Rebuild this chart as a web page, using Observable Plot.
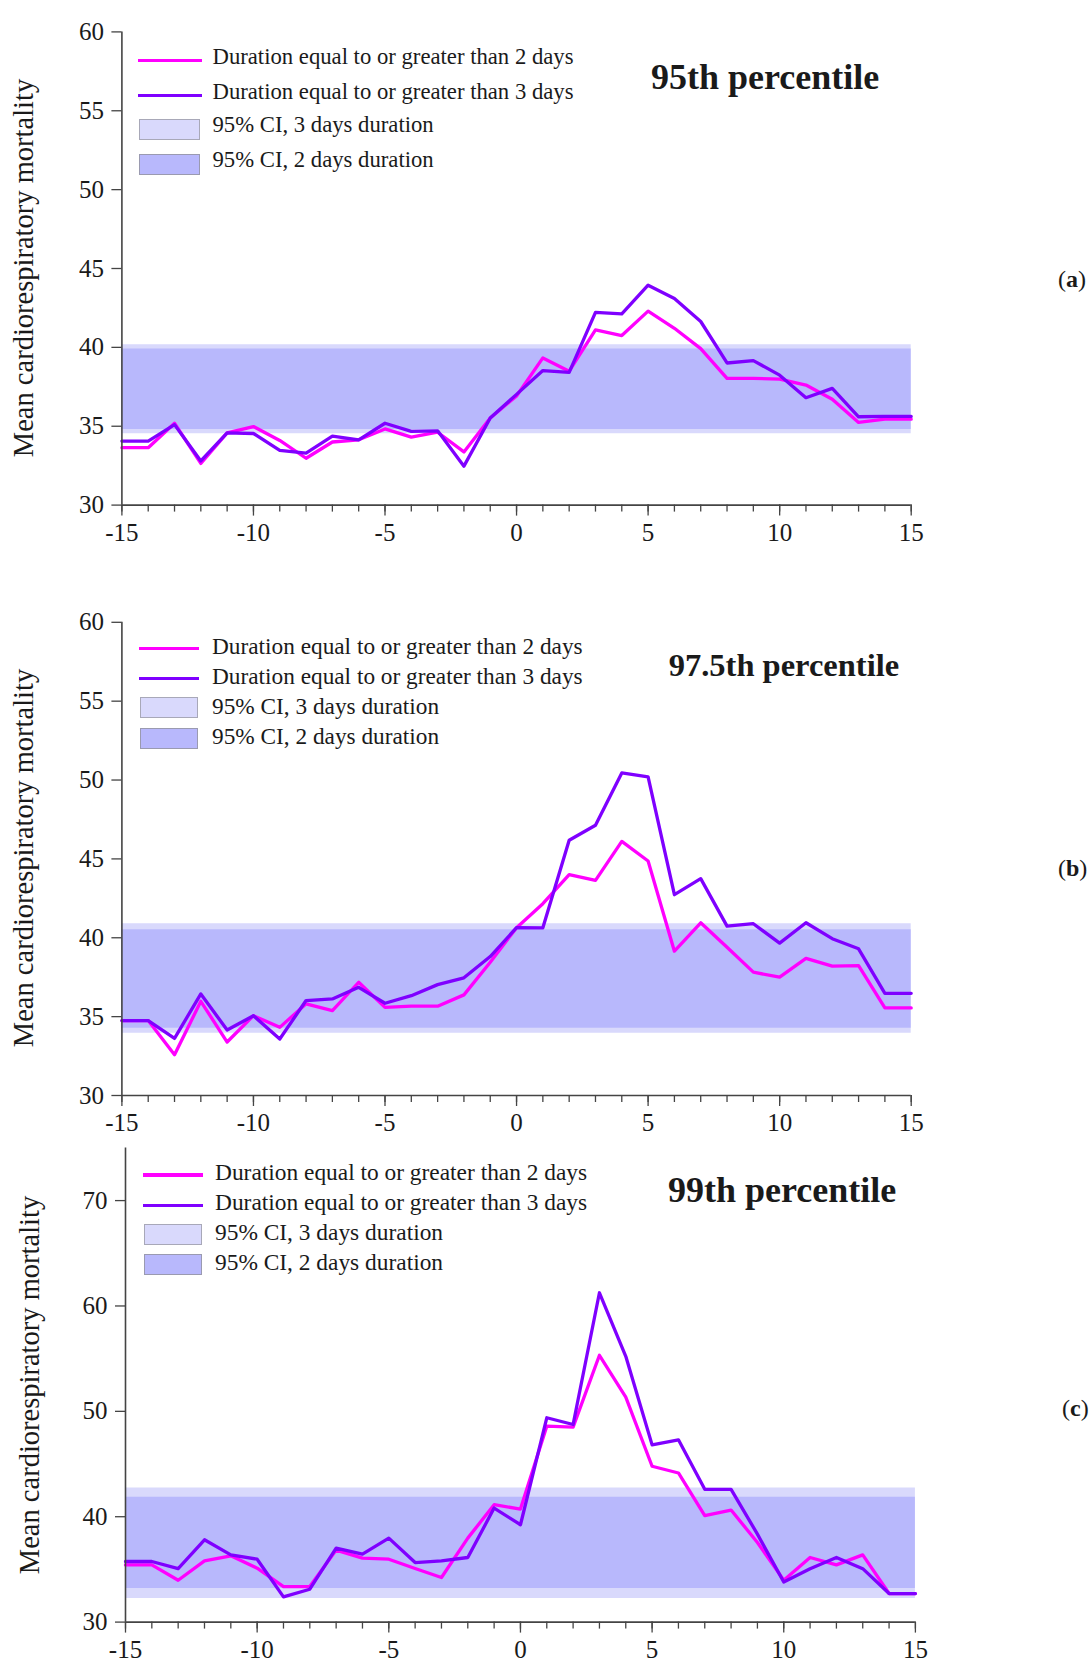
<!DOCTYPE html>
<html><head><meta charset="utf-8">
<script src="https://cdn.jsdelivr.net/npm/d3@7"></script>
<script src="https://cdn.jsdelivr.net/npm/@observablehq/plot@0.6"></script>
<style>
html,body{margin:0;padding:0;background:#fff;}
#root{position:relative;width:1092px;height:1664px;overflow:hidden;font-family:"Liberation Serif",serif;color:#1a1a1a;}
#root svg, #root svg text{font-family:"Liberation Serif",serif !important;}
.abs{position:absolute;white-space:nowrap;line-height:1;}
.wrap{position:absolute;left:0;}
</style></head><body><div id="root"></div>
<script>
// ---------- data ----------
const days = [-15,-14,-13,-12,-11,-10,-9,-8,-7,-6,-5,-4,-3,-2,-1,0,1,2,3,4,5,6,7,8,9,10,11,12,13,14,15];
const majorTicks = [-15,-10,-5,0,5,10,15];

// 95th percentile
const p95_2d = [33.64,33.64,35.19,32.64,34.58,34.98,34.1,32.97,34.0,34.14,34.83,34.31,34.62,33.37,35.52,36.92,39.33,38.49,41.11,40.75,42.3,41.21,39.92,38.03,38.03,37.99,37.61,36.71,35.24,35.45,35.45];
const p95_3d = [34.06,34.06,35.1,32.8,34.58,34.54,33.47,33.3,34.37,34.14,35.19,34.67,34.71,32.47,35.52,37.02,38.53,38.41,42.22,42.12,43.94,43.1,41.64,39.01,39.16,38.24,36.81,37.4,35.6,35.62,35.62];
const p95_ci3 = [34.52, 40.17];
const p95_ci2 = [34.79, 39.9];
const p95_yticks = [30,35,40,45,50,55,60];

// 97.5th percentile
const p975_2d = [34.75,34.75,32.58,35.97,33.39,35.06,34.32,35.81,35.38,37.18,35.59,35.66,35.66,36.38,38.45,40.64,42.16,44.0,43.64,46.11,44.87,39.15,40.95,39.4,37.82,37.5,38.69,38.2,38.24,35.55,35.55];
const p975_3d = [34.75,34.75,33.62,36.44,34.15,35.06,33.58,36.02,36.12,36.86,35.85,36.33,37.03,37.46,38.81,40.64,40.63,46.18,47.13,50.45,50.2,42.73,43.75,40.74,40.89,39.66,40.95,39.94,39.3,36.48,36.48];
const p975_ci3 = [33.94, 40.89];
const p975_ci2 = [34.26, 40.51];
const p975_yticks = [30,35,40,45,50,55,60];

// 99th percentile
const p99_2d = [35.43,35.43,33.97,35.81,36.29,35.12,33.37,33.37,36.83,36.07,35.97,35.08,34.23,37.97,41.14,40.73,48.59,48.5,55.32,51.35,44.79,44.15,40.1,40.63,37.56,33.98,36.13,35.43,36.38,32.71,32.71];
const p99_3d = [35.75,35.75,35.08,37.81,36.38,35.97,32.39,33.12,37.02,36.45,37.97,35.65,35.81,36.13,40.82,39.24,49.39,48.75,61.25,55.22,46.82,47.3,42.6,42.6,38.35,33.8,35.07,36.13,35.07,32.71,32.71];
const p99_ci3 = [32.23, 42.73];
const p99_ci2 = [33.18, 41.84];
const p99_yticks = [30,40,50,60,70];

const legendLabels = ["Duration equal to or greater than 2 days","Duration equal to or greater than 3 days","95% CI, 3 days duration","95% CI, 2 days duration"];
const yLabel = "Mean cardiorespiratory mortality";
const titles = ["95th percentile","97.5th percentile","99th percentile"];
const tags = ["a","b","c"];

// ---------- style ----------
const C2 = "#FF00FF", C3 = "#7F00FF", BAND3 = "#D9D9FC", BAND2 = "#B8B8FC", AX = "#444";
const root = document.getElementById("root");

function addText(txt, left, baseline, size, opts = {}) {
  const d = document.createElement("div");
  d.className = "abs";
  d.textContent = txt;
  d.style.left = left + "px";
  d.style.top = (baseline - 0.8375 * size) + "px";
  d.style.fontSize = size + "px";
  if (opts.bold) d.style.fontWeight = "bold";
  root.appendChild(d);
  return d;
}
function addBox(left, top, w, h, bg, border) {
  const d = document.createElement("div");
  d.style.position = "absolute";
  d.style.left = left + "px"; d.style.top = top + "px";
  d.style.width = w + "px"; d.style.height = h + "px";
  d.style.background = bg;
  d.style.boxSizing = "border-box";
  if (border) d.style.border = border;
  root.appendChild(d);
}
function addYLabel(cx, cy, size) {
  const d = document.createElement("div");
  d.className = "abs";
  d.textContent = yLabel;
  d.style.fontSize = size + "px";
  d.style.left = cx + "px"; d.style.top = cy + "px";
  d.style.transform = "translate(-50%,-50%) rotate(-90deg)";
  root.appendChild(d);
}

const panels = [
  {s2:p95_2d, s3:p95_3d, ci3:p95_ci3, ci2:p95_ci2, yticks:p95_yticks, ydom:[30,60],
   top:0, h:560, mt:31.4, mb:55.4, ml:121.4, mr:181.3,
   leg:{lx:138, lw:64, ly:[60.7,95.4], tx:212.5, tb:[65.4,100,133.2,167.9], fs:22.7, bx:139, bw:61, by:[119,153.6], bh:21},
   title:{x:651, b:89.3, fs:36}, tag:{x:1058, b:287}, ylab:{x:24, y:268}},
  {s2:p975_2d, s3:p975_3d, ci3:p975_ci3, ci2:p975_ci2, yticks:p975_yticks, ydom:[30,60],
   top:560, h:580, mt:61.8, mb:45, ml:121.4, mr:181.3,
   leg:{lx:139, lw:60, ly:[648.6,678.6], tx:212, tb:[654.3,684.3,715,745], fs:23.3, bx:140, bw:57.5, by:[697,727.5], bh:21},
   title:{x:668.7, b:676.4, fs:32.5}, tag:{x:1058, b:875.7}, ylab:{x:24, y:858}},
  {s2:p99_2d, s3:p99_3d, ci3:p99_ci3, ci2:p99_ci2, yticks:p99_yticks, ydom:[30,75],
   top:1140, h:524, mt:7.4, mb:42.4, ml:125, mr:177.1,
   leg:{lx:143, lw:60, ly:[1175,1205.5], tx:215, tb:[1180.8,1210.9,1241,1271], fs:23.4, bx:144, bw:58, by:[1224,1254], bh:21},
   title:{x:668, b:1201.8, fs:36}, tag:{x:1062, b:1416}, ylab:{x:29.5, y:1385}}
];

panels.forEach((p, k) => {
  const d2 = days.map((d, i) => ({day: d, v: p.s2[i]}));
  const d3s = days.map((d, i) => ({day: d, v: p.s3[i]}));
  const chart = Plot.plot({
    width: 1092, height: p.h,
    marginLeft: p.ml, marginRight: p.mr, marginTop: p.mt, marginBottom: p.mb,
    x: {domain: [-15, 15]},
    y: {domain: p.ydom},
    style: {fontFamily: "Liberation Serif, serif", fontSize: "25px", color: "#1a1a1a", background: "transparent", overflow: "visible"},
    marks: [
      Plot.areaY(days, {x: d => d, y1: () => p.ci3[0], y2: () => p.ci3[1], fill: BAND3}),
      Plot.areaY(days, {x: d => d, y1: () => p.ci2[0], y2: () => p.ci2[1], fill: BAND2}),
      Plot.line(d2, {x: "day", y: "v", stroke: C2, strokeWidth: 3.3}),
      Plot.line(d3s, {x: "day", y: "v", stroke: C3, strokeWidth: 3.3}),
      Plot.axisY({ticks: p.yticks, tickSize: 10, tickPadding: 8, fontSize: 25, tickFormat: d => String(d), label: null, stroke: AX, strokeWidth: 1.3}),
      Plot.axisX({ticks: days, tickSize: 7, fill: "none", label: null, stroke: AX, strokeWidth: 1.3}),
      Plot.axisX({ticks: majorTicks, tickSize: 11, tickPadding: 7, fontSize: 25, tickFormat: d => String(d), label: null, stroke: AX, strokeWidth: 1.3}),
      Plot.ruleX([-15], {stroke: AX, strokeWidth: 1.6}),
      Plot.ruleY([p.ydom[0]], {stroke: AX, strokeWidth: 1.6})
    ]
  });
  const w = document.createElement("div");
  w.className = "wrap";
  w.style.top = p.top + "px";
  w.appendChild(chart);
  root.appendChild(w);

  // legend
  const L = p.leg;
  addBox(L.lx, L.ly[0] - 1.75, L.lw, 3.5, C2);
  addBox(L.lx, L.ly[1] - 1.75, L.lw, 3.5, C3);
  addBox(L.bx, L.by[0], L.bw, L.bh, BAND3, "1.5px solid #a8a8b8");
  addBox(L.bx, L.by[1], L.bw, L.bh, BAND2, "1.5px solid #9a9ab0");
  legendLabels.forEach((t, i) => addText(t, L.tx, L.tb[i], L.fs));
  // title, tag, y label
  addText(titles[k], p.title.x, p.title.b, p.title.fs, {bold: true});
  const tg = addText("", p.tag.x, p.tag.b, 24);
  tg.append("(");
  const b = document.createElement("b"); b.textContent = tags[k]; tg.append(b);
  tg.append(")");
  addYLabel(p.ylab.x, p.ylab.y, 28.5);
});
</script></body></html>
